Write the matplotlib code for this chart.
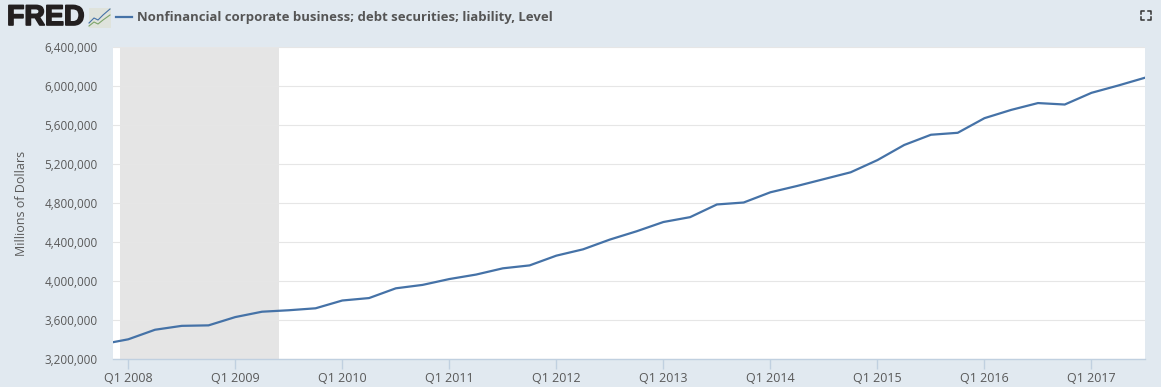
import matplotlib
matplotlib.use("Agg")
import matplotlib.pyplot as plt
import matplotlib.patheffects as pe
from matplotlib.lines import Line2D
from matplotlib.patches import Rectangle

W, H = 1161, 387
plt.rcParams['font.family'] = ['Open Sans', 'DejaVu Sans']

series_name = "Nonfinancial corporate business; debt securities; liability, Level"
y_label = "Millions of Dollars"
years = list(range(2008, 2018))
x_tick_labels = [f"Q1 {y}" for y in years]
y_ticks = [3200000, 3600000, 4000000, 4400000, 4800000, 5200000, 5600000, 6000000, 6400000]
# quarterly values from Q4 2007 to Q3 2017, millions of dollars
quarters = [2007.75 + 0.25 * i for i in range(40)]
values = [3350000, 3402000, 3500000, 3540000, 3545000, 3630000, 3685000, 3700000, 3720000,
          3800000, 3825000, 3925000, 3960000, 4020000, 4066000, 4130000, 4160000, 4260000,
          4325000, 4425000, 4510000, 4605000, 4655000, 4785000, 4805000, 4910000, 4975000,
          5045000, 5115000, 5240000, 5395000, 5500000, 5520000, 5670000, 5755000, 5825000,
          5810000, 5930000, 6005000, 6085000]
recession = (2007.92, 2009.41)

BG = "#e1e9f0"
fig = plt.figure(figsize=(W / 100, H / 100), dpi=100, facecolor=BG)
L, R, T, B = 113, 1145, 47, 359
ax = fig.add_axes([L / W, 1 - B / H, (R - L) / W, (B - T) / H])
ax.set_facecolor("white")
ax.axvspan(*recession, color="#e5e5e5", lw=0, zorder=1)
ax.set_yticks(y_ticks)
ax.set_yticklabels([f"{v:,}" for v in y_ticks], fontsize=8.5, color="#595959")
ax.set_xticks(years)
ax.set_xticklabels(x_tick_labels, fontsize=9, color="#595959")
ax.set_ylim(3200000, 6400000)
ax.set_xlim(2008 - 0.57 / 4, 2008 + 38 / 4)
ax.grid(axis="y", color="#e6e6e6", lw=0.8, zorder=2)
ax.set_axisbelow(False)
ax.plot(quarters, values, color="#4572a7", lw=1.6, zorder=3, solid_joinstyle="round")
for s in ("top", "right", "left"):
    ax.spines[s].set_visible(False)
ax.spines["bottom"].set_color("#c0d0e0")
ax.spines["bottom"].set_linewidth(1)
ax.tick_params(axis="y", length=0, pad=11)
ax.tick_params(axis="x", length=7, width=1, color="#c0d0e0", pad=2)
ax.set_ylabel(y_label, fontsize=9, color="#595959", labelpad=0)
ax.yaxis.set_label_coords((28 - L) / (R - L), 0.5)

def fx(x): return x / W
def fy(y): return 1 - y / H

# FRED logo text
fig.text(fx(7), fy(18), "FRED", family="Liberation Sans", fontsize=20.5, fontweight="bold",
         color="#231f20", va="center", ha="left",
         path_effects=[pe.withStroke(linewidth=1.2, foreground="#231f20")])
# logo icon
fig.add_artist(Rectangle((fx(89), fy(28)), 22 / W, 20 / H, transform=fig.transFigure,
                         facecolor="#dfe3dc", edgecolor="none"))
fig.add_artist(Line2D([fx(89), fx(94), fx(98), fx(103), fx(110)],
                      [fy(23), fy(18), fy(20), fy(15), fy(9)], color="#4572a7", lw=0.8))
fig.add_artist(Line2D([fx(89), fx(94), fx(98), fx(103), fx(110)],
                      [fy(26), fy(22), fy(24), fy(20), fy(15)], color="#7da56a", lw=0.8))
# legend
fig.add_artist(Line2D([fx(116), fx(132)], [fy(17), fy(17)], color="#4572a7", lw=1.6))
fig.text(fx(137), fy(17), series_name, fontsize=9.45, fontweight="bold", color="#555555",
         va="center", ha="left")
# fullscreen icon
cx0, cx1, cy0, cy1 = 1141, 1151, 11, 20
for x, y, dx, dy in [(cx0, cy0, 3, 3), (cx1, cy0, -3, 3), (cx0, cy1, 3, -3), (cx1, cy1, -3, -3)]:
    fig.add_artist(Line2D([fx(x + dx), fx(x), fx(x)], [fy(y), fy(y), fy(y + dy)], color="#333333", lw=1.1))

fig.savefig("out.png", dpi=100, facecolor=BG)
